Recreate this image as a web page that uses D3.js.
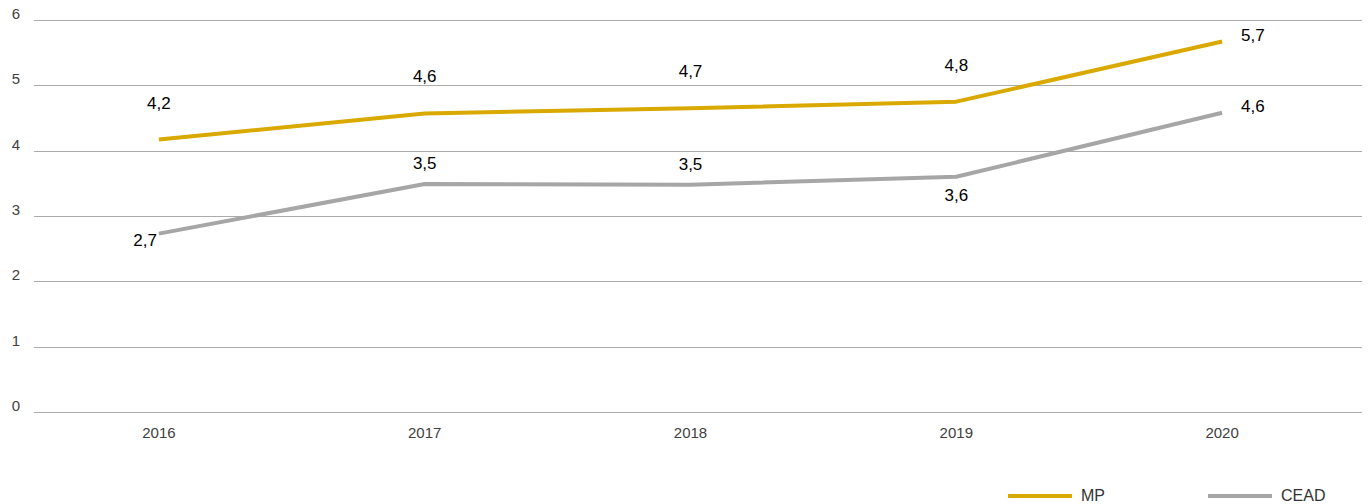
<!DOCTYPE html>
<html>
<head>
<meta charset="utf-8">
<script src="https://cdnjs.cloudflare.com/ajax/libs/d3/7.8.5/d3.min.js"></script>
<style>
    body { margin: 0; background: #fff; }
    svg { font-family: "Liberation Sans", Arial, sans-serif; }
</style>
</head>
<body>
<div id="chart"></div>
<script>
// chart data
const years = ["2016", "2017", "2018", "2019", "2020"];
const mpValues = [4.17, 4.57, 4.65, 4.75, 5.67];
const ceadValues = [2.73, 3.49, 3.48, 3.6, 4.58];
const yTicks = [0, 1, 2, 3, 4, 5, 6];
// label placement per point: "above", "below", "left", "right"
const mpLabelPos = ["above", "above", "above", "above", "right"];
const ceadLabelPos = ["left", "above", "above", "below", "right"];

const width = 1370, height = 504;
const margin = { top: 20, right: 8, bottom: 92, left: 34 };

const svg = d3.select("#chart").append("svg")
    .attr("width", width)
    .attr("height", height);

// category centres sit a little left of the gridline span
const x = d3.scaleBand()
    .domain(years)
    .range([26, 1355]);

const y = d3.scaleLinear()
    .domain([0, 6])
    .range([height - margin.bottom, margin.top]);

// gridlines
svg.append("g")
    .selectAll("line")
    .data(yTicks)
    .enter().append("line")
    .attr("x1", margin.left)
    .attr("x2", width - margin.right)
    .attr("y1", d => Math.round(y(d)) + 0.5)
    .attr("y2", d => Math.round(y(d)) + 0.5)
    .attr("stroke", "#ababab")
    .attr("stroke-width", 1);

// y tick labels
svg.append("g")
    .selectAll("text")
    .data(yTicks)
    .enter().append("text")
    .attr("x", 20)
    .attr("y", d => y(d) - 1)
    .attr("text-anchor", "end")
    .attr("fill", "#404040")
    .style("font-size", "15px")
    .text(d => d);

// x tick labels
svg.append("g")
    .selectAll("text")
    .data(years)
    .enter().append("text")
    .attr("x", d => x(d) + x.bandwidth() / 2)
    .attr("y", y(0) + 26)
    .attr("text-anchor", "middle")
    .attr("fill", "#404040")
    .style("font-size", "15px")
    .text(d => d);

const fmt = v => d3.format(".1f")(v).replace(".", ",");

const series = [
    { name: "MP", values: mpValues, color: "#d9a900", pos: mpLabelPos, above: 31 },
    { name: "CEAD", values: ceadValues, color: "#a6a6a6", pos: ceadLabelPos, above: 15 }
];

const line = d3.line()
    .x((d, i) => x(years[i]) + x.bandwidth() / 2)
    .y(d => y(d));

series.forEach(s => {
    svg.append("path")
        .datum(s.values)
        .attr("fill", "none")
        .attr("stroke", s.color)
        .attr("stroke-width", 4)
        .attr("stroke-linejoin", "round")
        .attr("d", line);

    svg.append("g")
        .selectAll("text")
        .data(s.values)
        .enter().append("text")
        .attr("x", (d, i) => {
            const cx = x(years[i]) + x.bandwidth() / 2;
            if (s.pos[i] == "left") return cx - 2;
            if (s.pos[i] == "right") return cx + 19;
            return cx;
        })
        .attr("y", (d, i) => {
            const cy = y(d);
            if (s.pos[i] == "above") return cy - s.above;
            if (s.pos[i] == "below") return cy + 24;
            if (s.pos[i] == "left") return cy + 12;
            return cy - 1;
        })
        .attr("text-anchor", (d, i) => s.pos[i] == "left" ? "end" : (s.pos[i] == "right" ? "start" : "middle"))
        .attr("fill", "#000")
        .style("font-size", "17px")
        .text(d => fmt(d));
});

// legend
const legendX = [1008, 1208];
const legend = svg.append("g")
    .selectAll("g")
    .data(series)
    .enter().append("g")
    .attr("transform", (d, i) => "translate(" + legendX[i] + "," + 496 + ")");

legend.append("line")
    .attr("x1", 0)
    .attr("x2", 64)
    .attr("stroke", d => d.color)
    .attr("stroke-width", 4);

legend.append("text")
    .attr("x", 73)
    .attr("y", 5)
    .attr("fill", "#333")
    .style("font-size", "16px")
    .text(d => d.name);
</script>
</body>
</html>
